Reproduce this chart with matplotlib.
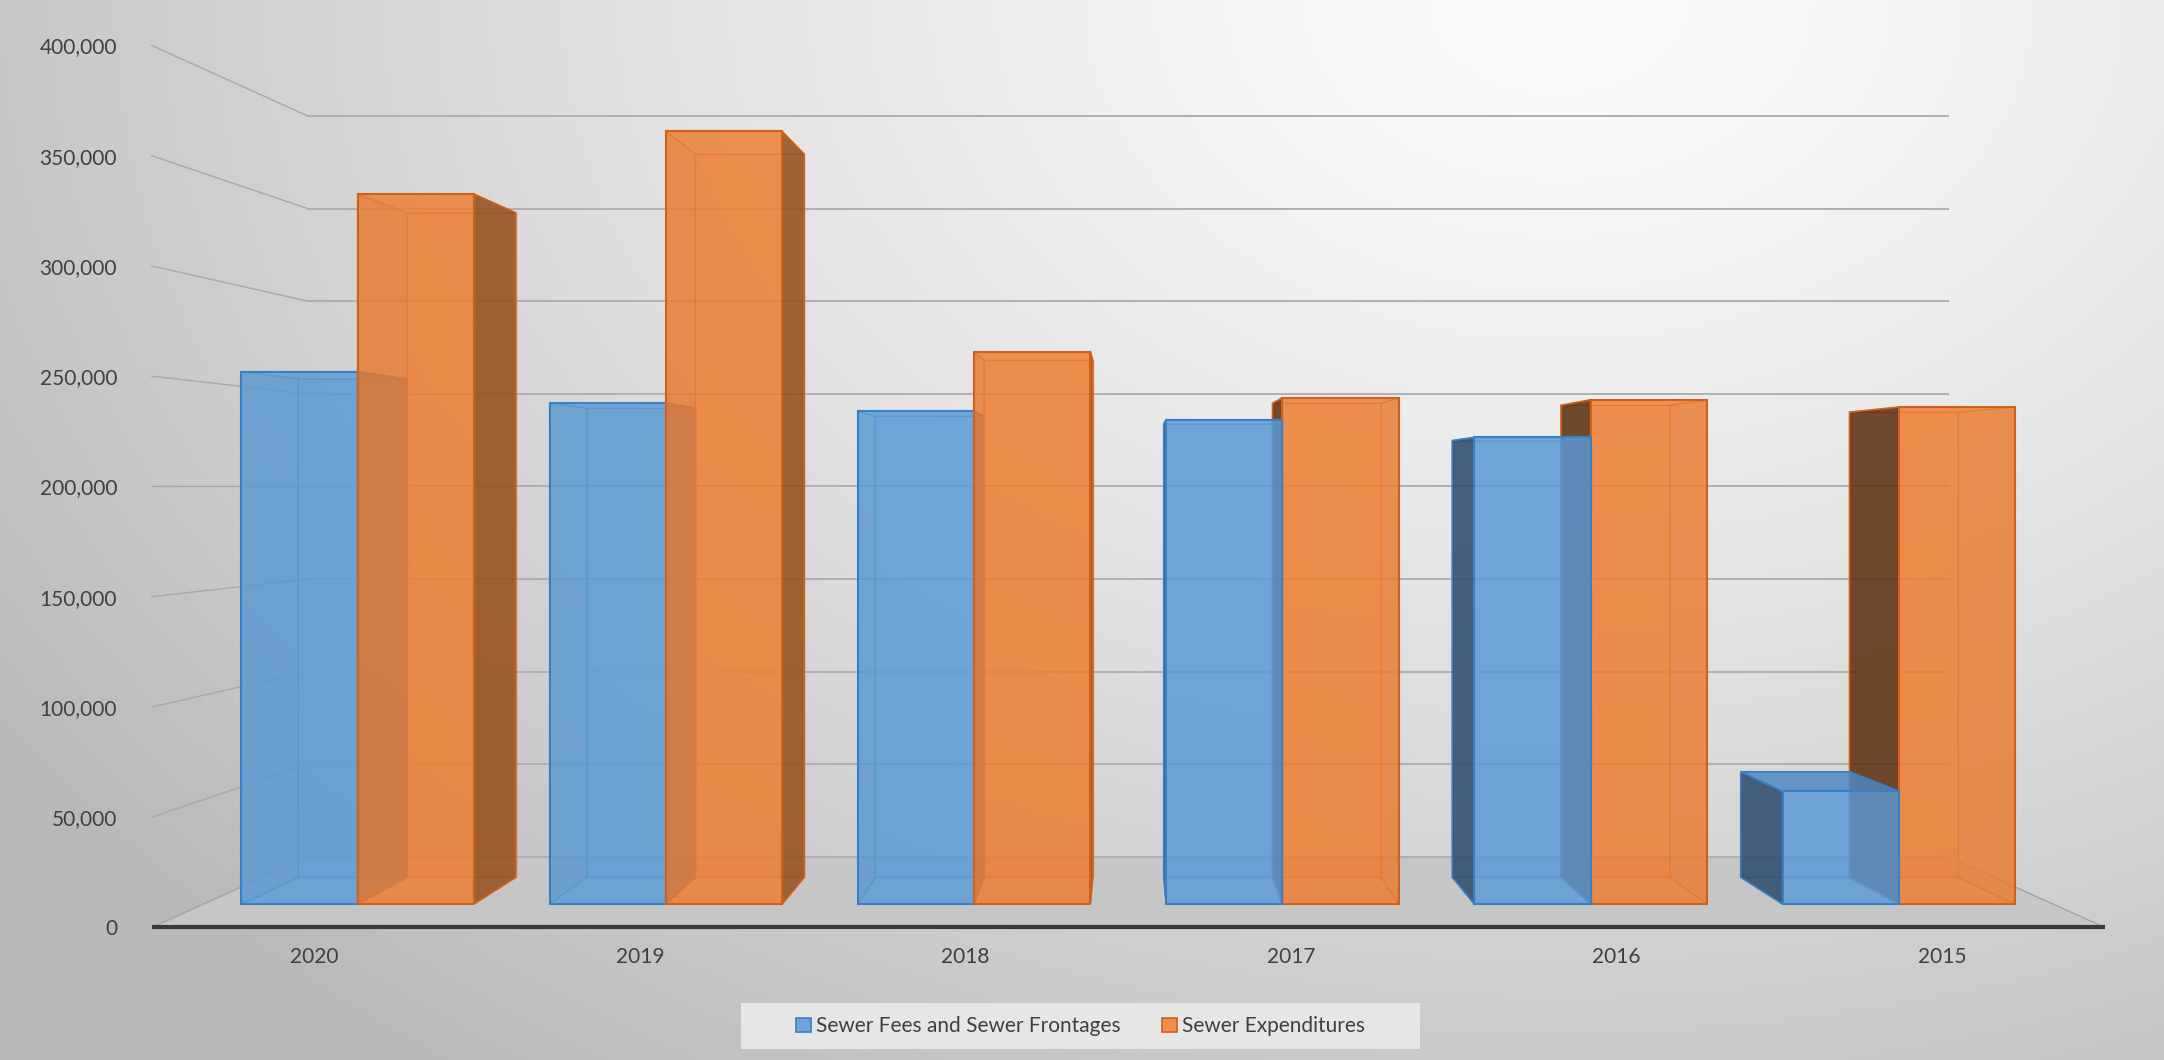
import numpy as np
import matplotlib
matplotlib.use('Agg')
import matplotlib.pyplot as plt
from matplotlib.patches import Polygon, Patch, Rectangle
from matplotlib.ticker import FuncFormatter

plt.rcParams['font.family'] = ['Lato', 'DejaVu Sans']

years = ['2020', '2019', '2018', '2017', '2016', '2015']
fees = [255000, 240000, 236000, 232000, 223500, 54000]
expenditures = [340000, 370000, 264500, 242500, 241500, 238000]
series_names = ['Sewer Fees and Sewer Frontages', 'Sewer Expenditures']
yticks = list(range(0, 400001, 50000))

# Excel-style 3-D view: one vanishing point, depth 0 = front plane, 1 = back wall
VP_X = len(years) / 2
VP_Y = 200000
SHRINK = 0.16
BAR_W = 0.377
D_FRONT, D_BACK = 0.33, 0.71

TEXT = '#404040'
styles = {
    # face, edge, left side, right side, top
    'blue': ('#5b9bd5', '#3b7fc4', '#2f4b6a', '#4a7fb8', '#4f88c6'),
    'orange': ('#ed7d31', '#cf611a', '#5a3114', '#93501f', '#e07a35'),
}


def proj(x, v, d):
    s = 1 - SHRINK * d
    return (VP_X + (x - VP_X) * s, VP_Y + (v - VP_Y) * s)


def poly(ax, pts, color, alpha, edge, z, lw=1.2, ealpha=1.0):
    ax.add_patch(Polygon(pts, closed=True, facecolor=color, alpha=alpha,
                         edgecolor='none', zorder=z, clip_on=False))
    ax.add_patch(Polygon(pts, closed=True, facecolor='none', edgecolor=edge,
                         alpha=ealpha, lw=lw, zorder=z + 0.01, clip_on=False))


def draw_bar(ax, x0, x1, v, style, z):
    face, edge, left_c, right_c, top_c = styles[style]
    front = [proj(x0, 0, D_FRONT), proj(x1, 0, D_FRONT), proj(x1, v, D_FRONT), proj(x0, v, D_FRONT)]
    back = [proj(x0, 0, D_BACK), proj(x1, 0, D_BACK), proj(x1, v, D_BACK), proj(x0, v, D_BACK)]
    left = [proj(x0, 0, D_FRONT), proj(x0, 0, D_BACK), proj(x0, v, D_BACK), proj(x0, v, D_FRONT)]
    right = [proj(x1, 0, D_FRONT), proj(x1, 0, D_BACK), proj(x1, v, D_BACK), proj(x1, v, D_FRONT)]
    top = [proj(x0, v, D_FRONT), proj(x1, v, D_FRONT), proj(x1, v, D_BACK), proj(x0, v, D_BACK)]
    bottom = [proj(x0, 0, D_FRONT), proj(x1, 0, D_FRONT), proj(x1, 0, D_BACK), proj(x0, 0, D_BACK)]

    # hidden faces, seen through the transparent front
    poly(ax, back, face, 0.25, edge, z, lw=1.0, ealpha=0.55)
    poly(ax, bottom, face, 0.15, edge, z + 0.02, lw=1.0, ealpha=0.55)
    if x1 > VP_X:
        poly(ax, right, right_c, 0.15, edge, z + 0.04, lw=1.0, ealpha=0.55)
    if x0 < VP_X:
        poly(ax, left, left_c, 0.15, edge, z + 0.04, lw=1.0, ealpha=0.55)
    if v > VP_Y:
        poly(ax, top, face, 0.15, edge, z + 0.06, lw=1.0, ealpha=0.55)

    # visible faces
    if x1 < VP_X:
        poly(ax, right, right_c, 0.85, edge, z + 0.1)
    if x0 > VP_X:
        poly(ax, left, left_c, 0.85, edge, z + 0.1)
    if v < VP_Y:
        poly(ax, top, top_c, 0.8, edge, z + 0.12)
    poly(ax, front, face, 0.8, edge, z + 0.2, lw=1.5)


W, H = 2164, 1060
fig = plt.figure(figsize=(W / 100, H / 100), dpi=100)

# background gradient
bg = fig.add_axes([0, 0, 1, 1], zorder=-10)
yy, xx = np.mgrid[0:H, 0:W]
dist = np.sqrt(((xx - 0.72 * W) / (0.72 * W)) ** 2 + ((yy - 0.0 * H) / (1.05 * H)) ** 2)
shade = np.clip(251 - 52 * dist ** 1.3, 185, 251) / 255
bg.imshow(np.dstack([shade, shade, shade]), aspect='auto', extent=(0, 1, 0, 1))
bg.axis('off')

# main axes: front plane of the 3-D box
x_left, x_right = 151.8 / W, 2104.7 / W
y_bot, y_top = (H - 927.4) / H, (H - 45.5) / H
ax = fig.add_axes([x_left, y_bot, x_right - x_left, y_top - y_bot])
ax.set_facecolor('none')
ax.set_xlim(0, len(years))
ax.set_ylim(0, 400000)
for sp in ax.spines.values():
    sp.set_visible(False)

# floor
floor = [proj(0, 0, 0), proj(len(years), 0, 0), proj(len(years), 0, 1), proj(0, 0, 1)]
ax.add_patch(Polygon(floor, closed=True, facecolor='#c6c6c6', edgecolor='#9a9a9a',
                     lw=0.8, zorder=1, clip_on=False))

# back wall gridlines and leader lines from the labels
for v in yticks:
    bx0, by = proj(0, v, 1)
    bx1, _ = proj(len(years), v, 1)
    ax.plot([bx0, bx1], [by, by], color='#b0b0b0', lw=1.4, zorder=1.5, clip_on=False)
    ax.plot([0, bx0], [v, by], color='#a8a8a8', lw=1.0, zorder=1.5, clip_on=False)

# category axis line
ax.plot([0, len(years)], [0, 0], color='#3a3a3a', lw=3, zorder=2, clip_on=False,
        solid_capstyle='butt')

# bars, drawn from the outside towards the vanishing point
bars = []
for i, (f, e) in enumerate(zip(fees, expenditures)):
    c = i + 0.5
    bars.append((c - BAR_W, c, f, 'blue'))
    bars.append((c, c + BAR_W, e, 'orange'))
bars.sort(key=lambda b: -abs((b[0] + b[1]) / 2 - VP_X))
for k, (x0, x1, v, st) in enumerate(bars):
    draw_bar(ax, x0, x1, v, st, 3 + k)

ax.set_xticks([i + 0.5 for i in range(len(years))])
ax.set_xticklabels(years)
ax.set_yticks(yticks)
ax.yaxis.set_major_formatter(FuncFormatter(lambda v, p: f'{int(v):,}'))
ax.tick_params(axis='x', length=0, pad=14, labelsize=15, labelcolor=TEXT)
ax.tick_params(axis='y', length=0, pad=25, labelsize=15, labelcolor=TEXT)

# legend
fig.patches.append(Rectangle((741 / W, (H - 1049) / H), 679 / W, 46 / H,
                             transform=fig.transFigure, facecolor='#e6e6e6',
                             edgecolor='none', zorder=0))
handles = [Patch(facecolor='#6fa5db', edgecolor='#3b7fc4', lw=1.2),
           Patch(facecolor='#f08d4c', edgecolor='#cf611a', lw=1.2)]
fig.legend(handles, series_names, loc='center', bbox_to_anchor=(0.4994, 0.0319),
           ncol=2, frameon=False, fontsize=15, labelcolor=TEXT,
           handlelength=0.7, handleheight=0.7, handletextpad=0.25, columnspacing=2.0)

fig.savefig('out.png', dpi=100)
